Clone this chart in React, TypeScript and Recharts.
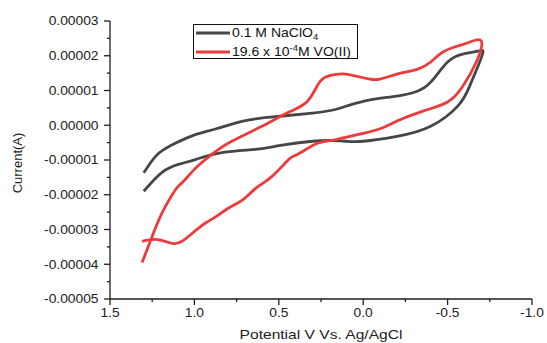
import React from "react";
import { LineChart, Line, XAxis, YAxis, Legend } from "recharts";

// ---- Data (potential in V vs Ag/AgCl, current in A) ----
const naclo4Potential = [
  1.30, 1.19, 1.09, 0.99, 0.83, 0.63, 0.49, 0.30, 0.18, 0.10, 0.00, -0.20, -0.40, -0.56, -0.63, -0.69, -0.71,
  -0.68, -0.59, -0.50, -0.40, -0.32, -0.20, 0.00, 0.16, 0.30, 0.49, 0.69, 0.87, 0.98, 1.07, 1.14, 1.21, 1.26, 1.30,
];
const naclo4Current = [
  -1.90e-5, -1.35e-5, -1.12e-5, -0.98e-5, -0.78e-5, -0.69e-5, -0.58e-5, -0.46e-5, -0.44e-5, -0.46e-5, -0.46e-5,
  -0.32e-5, -0.03e-5, 0.55e-5, 1.12e-5, 1.82e-5, 2.13e-5,
  2.13e-5, 2.05e-5, 1.82e-5, 1.24e-5, 0.98e-5, 0.84e-5, 0.69e-5, 0.46e-5, 0.35e-5, 0.26e-5, 0.14e-5, -0.10e-5,
  -0.25e-5, -0.42e-5, -0.58e-5, -0.80e-5, -1.08e-5, -1.37e-5,
];

const voPotential = [
  1.31, 1.22, 1.13, 1.07, 0.99, 0.93, 0.87, 0.79, 0.71, 0.63, 0.54, 0.44, 0.39, 0.30, 0.24, 0.16, 0.04, -0.10,
  -0.20, -0.35, -0.50, -0.59, -0.67, -0.70,
  -0.63, -0.56, -0.47, -0.40, -0.32, -0.20, -0.10, -0.04, 0.04, 0.12, 0.20, 0.26, 0.33, 0.44, 0.60, 0.79, 0.91,
  1.00, 1.07, 1.11, 1.19, 1.25, 1.31,
];
const voCurrent = [
  -3.34e-5, -3.29e-5, -3.40e-5, -3.33e-5, -3.02e-5, -2.80e-5, -2.62e-5, -2.36e-5, -2.13e-5, -1.79e-5, -1.47e-5,
  -0.98e-5, -0.84e-5, -0.58e-5, -0.48e-5, -0.41e-5, -0.28e-5, -0.10e-5,
  0.12e-5, 0.40e-5, 0.67e-5, 1.12e-5, 1.82e-5, 2.42e-5,
  2.39e-5, 2.28e-5, 2.10e-5, 1.82e-5, 1.61e-5, 1.47e-5, 1.33e-5, 1.33e-5, 1.41e-5, 1.48e-5, 1.43e-5, 1.23e-5,
  0.69e-5, 0.38e-5, -0.03e-5, -0.49e-5, -0.89e-5, -1.27e-5, -1.64e-5, -1.84e-5, -2.51e-5, -3.20e-5, -3.95e-5,
];

const xMajorTicks = [1.5, 1.0, 0.5, 0.0, -0.5, -1.0];
const xMajorLabels = ["1.5", "1.0", "0.5", "0.0", "-0.5", "-1.0"];
const xMinorTicks = [1.25, 0.75, 0.25, -0.25, -0.75];

const yMajorTicks = [-0.00005, -0.00004, -0.00003, -0.00002, -0.00001, 0, 0.00001, 0.00002, 0.00003];
const yMajorLabels = ["-0.00005", "-0.00004", "-0.00003", "-0.00002", "-0.00001", "0.00000", "0.00001", "0.00002", "0.00003"];
const yMinorTicks = [-0.000045, -0.000035, -0.000025, -0.000015, -0.000005, 0.000005, 0.000015, 0.000025];

const seriesNames = ["0.1 M NaClO", "19.6 x 10", "M VO(II)"];

// ---- Built tables ----
const naclo4Data = naclo4Potential.map((v, k) => ({ v, i: naclo4Current[k] }));
const voData = voPotential.map((v, k) => ({ v, i: voCurrent[k] }));

const BLACK = "#464646";
const RED = "#ee3a3a";
const AXIS = "#1e1e1e";
const FONT = "Arial, 'Liberation Sans', sans-serif";
const SX = 1.15;

const findIdx = (arr: number[], val: number) => arr.findIndex((t) => Math.abs(t - val) < 1e-9);

const XTick = (props: any) => {
  const { x, y, payload } = props;
  const idx = findIdx(xMajorTicks, payload.value);
  const major = idx >= 0;
  return (
    <g>
      <line x1={x} x2={x} y1={y} y2={y + (major ? 6 : 3)} stroke={AXIS} strokeWidth={1.3} />
      {major && (
        <text
          transform={`translate(${x},${y + 18}) scale(${SX},1)`}
          textAnchor="middle"
          fontSize={12}
          fontFamily={FONT}
          fill="#222"
        >
          {xMajorLabels[idx]}
        </text>
      )}
    </g>
  );
};

const YTick = (props: any) => {
  const { x, y, payload } = props;
  const idx = findIdx(yMajorTicks, payload.value);
  const major = idx >= 0;
  return (
    <g>
      <line x1={x} x2={x - (major ? 6 : 3)} y1={y} y2={y} stroke={AXIS} strokeWidth={1.3} />
      {major && (
        <text
          transform={`translate(${x - 11.5},${y + 4.3}) scale(${SX},1)`}
          textAnchor="end"
          fontSize={12}
          fontFamily={FONT}
          fill="#222"
        >
          {yMajorLabels[idx]}
        </text>
      )}
    </g>
  );
};

const LegendBox = () => (
  <svg width={166} height={36} style={{ display: "block" }}>
    <rect x={0.5} y={0.5} width={164} height={34} fill="#fff" stroke="#111" strokeWidth={1} />
    <line x1={3} x2={37} y1={9} y2={9} stroke={BLACK} strokeWidth={3} />
    <line x1={3} x2={37} y1={28} y2={28} stroke={RED} strokeWidth={3} />
    <text transform={`translate(39,13.3) scale(1.12,1)`} fontSize={12.5} fontFamily={FONT} fill="#111">
      {seriesNames[0]}
      <tspan fontSize={8.5} dy={3}>4</tspan>
    </text>
    <text transform={`translate(39,31.7) scale(1.12,1)`} fontSize={12.5} fontFamily={FONT} fill="#111">
      {seriesNames[1]}
      <tspan fontSize={8.5} dy={-5}>-4</tspan>
      <tspan dy={5}>{seriesNames[2]}</tspan>
    </text>
  </svg>
);

export default function App() {
  return (
    <div style={{ position: "absolute", left: 0, top: 0, width: 547, height: 343, background: "#fff" }}>
      <LineChart width={547} height={343} margin={{ top: 21, right: 15, bottom: 0, left: 0 }}>
        <XAxis
          type="number"
          dataKey="v"
          domain={[-1, 1.5]}
          reversed
          allowDataOverflow
          ticks={[...xMajorTicks, ...xMinorTicks]}
          interval={0}
          tickSize={0}
          tickMargin={0}
          tickLine={false}
          tick={<XTick />}
          height={44}
          axisLine={{ stroke: AXIS, strokeWidth: 1.3 }}
        />
        <YAxis
          type="number"
          dataKey="i"
          domain={[-0.00005, 0.00003]}
          allowDataOverflow
          ticks={[...yMajorTicks, ...yMinorTicks]}
          interval={0}
          tickSize={0}
          tickMargin={0}
          tickLine={false}
          tick={<YTick />}
          width={110}
          axisLine={{ stroke: AXIS, strokeWidth: 1.3 }}
        />
        <Legend
          layout="vertical"
          align="center"
          verticalAlign="middle"
          content={() => <LegendBox />}
          wrapperStyle={{ left: 193, top: 24, width: 166, height: 36 }}
        />
        <Line
          data={naclo4Data}
          dataKey="i"
          name="0.1 M NaClO4"
          type="natural"
          stroke={BLACK}
          strokeWidth={2.8}
          dot={false}
          isAnimationActive={false}
        />
        <Line
          data={voData}
          dataKey="i"
          name="19.6 x 10-4M VO(II)"
          type="natural"
          stroke={RED}
          strokeWidth={2.8}
          dot={false}
          isAnimationActive={false}
        />
        <text
          transform={`translate(321,339) scale(1.2,1)`}
          textAnchor="middle"
          fontSize={13}
          fontFamily={FONT}
          fill="#222"
        >
          Potential V Vs. Ag/AgCl
        </text>
        <text
          transform={`translate(22,163) rotate(-90)`}
          textAnchor="middle"
          fontSize={13}
          fontFamily={FONT}
          fill="#222"
        >
          Current(A)
        </text>
      </LineChart>
    </div>
  );
}
